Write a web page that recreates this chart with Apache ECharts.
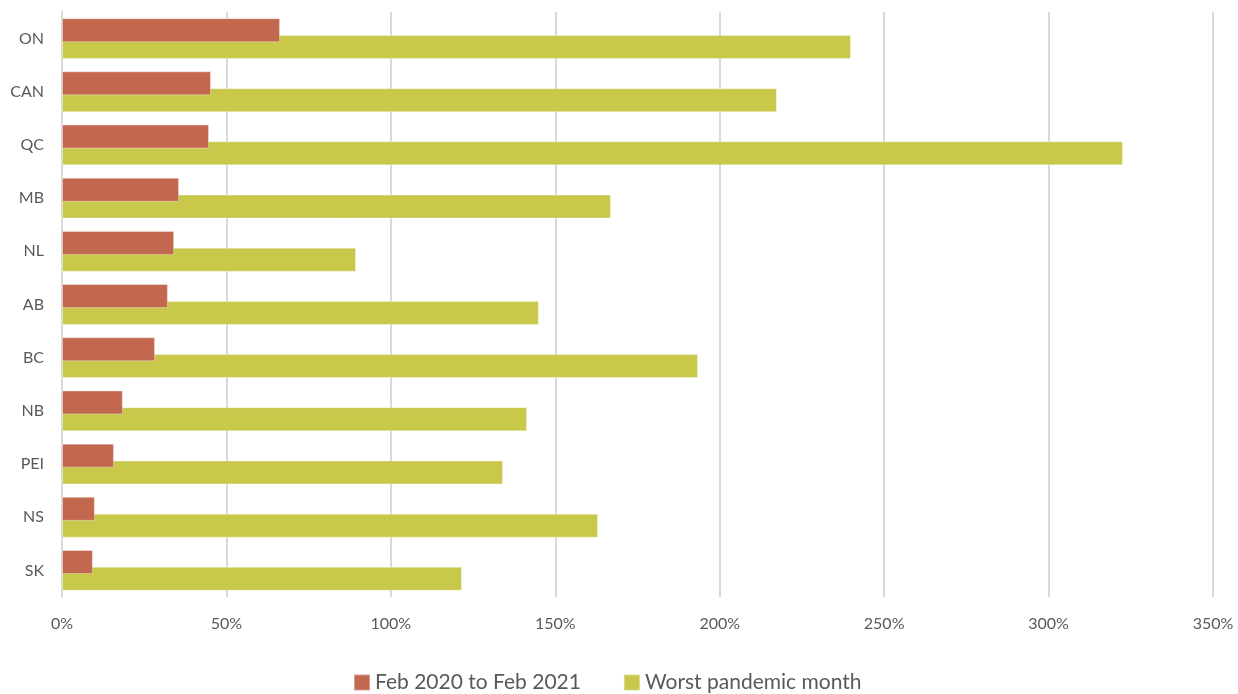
<!DOCTYPE html>
<html><head><meta charset="utf-8">
<script src="https://cdn.jsdelivr.net/npm/echarts@6/dist/echarts.min.js"></script>
<style>html,body{margin:0;padding:0;background:#fff}#c{width:1238px;height:694px}</style>
</head><body><div id="c"></div>
<script>
const categories = ['ON','CAN','QC','MB','NL','AB','BC','NB','PEI','NS','SK'];
const febToFeb = [66.3,45.3,44.7,35.6,34.1,32.2,28.3,18.5,15.8,10.0,9.4];
const worstMonth = [239.9,217.4,322.6,166.9,89.4,145.0,193.4,141.4,134.1,163.0,121.6];
const seriesNames = ['Feb 2020 to Feb 2021','Worst pandemic month'];
const xTicks = {min:0,max:350,interval:50};

const chart = echarts.init(document.getElementById('c'));
chart.setOption({
  animation:false,
  textStyle:{fontFamily:'Lato, "Open Sans", sans-serif'},
  grid:{left:62,right:25,top:12,bottom:97,containLabel:false},
  legend:{
    data:seriesNames,
    bottom:-4,left:348,
    itemWidth:16,itemHeight:16,itemGap:42,icon:'rect',
    textStyle:{fontSize:21,color:'#595959',fontFamily:'Lato, "Open Sans", sans-serif'}
  },
  xAxis:{
    type:'value',min:xTicks.min,max:xTicks.max,interval:xTicks.interval,
    axisLine:{show:false},axisTick:{show:false},
    splitLine:{show:true,lineStyle:{color:'#d9d9d9',width:2}},
    axisLabel:{formatter:'{value}%',color:'#595959',fontSize:16,margin:19}
  },
  yAxis:{
    type:'category',data:categories,inverse:true,
    axisLine:{show:true,lineStyle:{color:'#d9d9d9',width:2}},
    axisTick:{show:false},
    axisLabel:{color:'#595959',fontSize:16,margin:18}
  },
  series:[
    {name:seriesNames[0],type:'bar',data:febToFeb,barWidth:24,barGap:'-30%',z:3,
     itemStyle:{color:'#c2684f',borderColor:'rgba(255,255,255,0.35)',borderWidth:1}},
    {name:seriesNames[1],type:'bar',data:worstMonth,barWidth:24,barGap:'-30%',z:2,
     itemStyle:{color:'#c8c84b',borderColor:'rgba(255,255,255,0.35)',borderWidth:1}}
  ]
});
</script></body></html>
